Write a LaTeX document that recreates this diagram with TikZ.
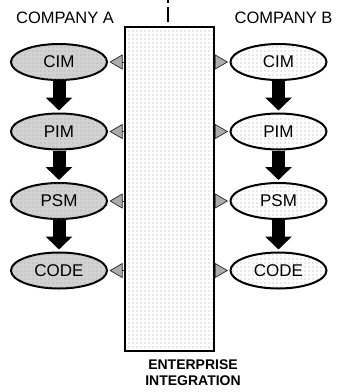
\documentclass[tikz,border=0pt]{standalone}
\usepackage{fontspec}
\setmainfont{Liberation Sans}
\usetikzlibrary{arrows.meta,patterns,shapes.geometric}

\pgfdeclarepatternformonly{sparsedots}{\pgfpointorigin}{\pgfpoint{4pt}{4pt}}{\pgfpoint{4pt}{4pt}}%
	{\pgfpathcircle{\pgfpoint{2pt}{2pt}}{0.6pt}\pgfusepath{fill}}

\begin{document}
\begin{tikzpicture}[x=1pt,y=-1pt,
		model/.style={ellipse,draw,line width=2pt,minimum width=96pt,minimum height=36pt,inner sep=0pt,font=\fontsize{17}{19}\selectfont},
		modela/.style={model,fill=gray!35,postaction={pattern=sparsedots,pattern color=gray!70}},
		modelb/.style={model,pattern=sparsedots,pattern color=gray!75},
		refine/.style={line width=13pt,-{Triangle[length=13pt,width=26pt]},shorten >=2pt},
		link/.style={gray!30!black,line width=0.7pt,-{Triangle[length=13pt,width=15pt,fill=gray!65]},shorten >=1.5pt},
		company/.style={font=\fontsize{16.5}{18}\selectfont}]
	\useasboundingbox (0,0) rectangle (337,392);
	% integration box in the middle
	\node (ei) [draw,line width=1.8pt,minimum width=89pt,minimum height=324pt,pattern=sparsedots,pattern color=gray!75] at (169.5,189) {};
	\node (eilabel) [anchor=north,inner sep=0pt,align=center,font=\bfseries\fontsize{14}{16}\selectfont] at (193,360) {ENTERPRISE\\INTEGRATION};
	\coordinate (cut) at (168,0);
	\draw [line width=1.5pt,dash pattern=on 3pt off 4pt on 16pt off 10pt] (cut) -- ++(0,22);
	% both companies
	\node (compa) [company] at (65,17.5) {COMPANY A};
	\node (compb) [company] at (283.5,17.5) {COMPANY B};
	\foreach \lbl [count=\i] in {CIM,PIM,PSM,CODE} {
		\node (a\i) [modela] at (59,{62+69.5*(\i-1)}) {\lbl};
		\node (b\i) [modelb] at (278.5,{62+69.5*(\i-1)}) {\lbl};
		\draw [link] (ei.west |- a\i) -- (a\i.east);
		\draw [link] (ei.east |- b\i) -- (b\i.west);
	}
	\foreach \i [evaluate=\i as \j using int(\i+1)] in {1,2,3} {
		\draw [refine] (a\i.south) -- (a\j.north);
		\draw [refine] (b\i.south) -- (b\j.north);
	}
\end{tikzpicture}
\end{document}
